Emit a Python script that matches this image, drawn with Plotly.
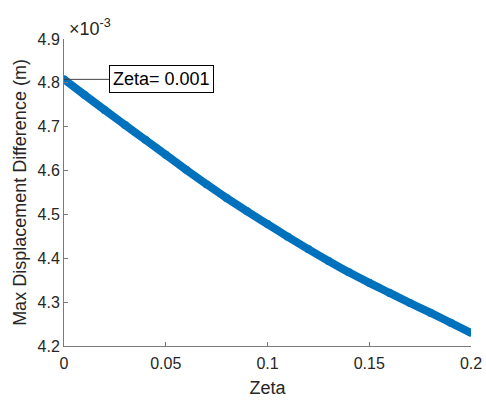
import plotly.graph_objects as go

zeta = [0.0, 0.01, 0.02, 0.03, 0.04, 0.05, 0.06, 0.07, 0.08, 0.09, 0.10,
        0.11, 0.12, 0.13, 0.14, 0.15, 0.16, 0.17, 0.18, 0.19, 0.20]
max_disp_diff = [4.808e-3, 4.773e-3, 4.738e-3, 4.704e-3, 4.670e-3, 4.636e-3,
                 4.602e-3, 4.569e-3, 4.537e-3, 4.507e-3, 4.478e-3, 4.449e-3,
                 4.421e-3, 4.394e-3, 4.368e-3, 4.344e-3, 4.321e-3, 4.298e-3,
                 4.276e-3, 4.253e-3, 4.230e-3]

x_ticks = [0, 0.05, 0.1, 0.15, 0.2]
x_ticktext = ["0", "0.05", "0.1", "0.15", "0.2"]
y_ticks = [4.2e-3, 4.3e-3, 4.4e-3, 4.5e-3, 4.6e-3, 4.7e-3, 4.8e-3, 4.9e-3]
y_ticktext = ["4.2", "4.3", "4.4", "4.5", "4.6", "4.7", "4.8", "4.9"]

label_zeta = 0.001
label_value = 4.808e-3

font_family = "Liberation Sans, Arial, sans-serif"
text_color = "#262626"
axis_color = "#7a7a7a"

fig = go.Figure()
fig.add_trace(go.Scatter(
    x=zeta, y=max_disp_diff, mode="lines+markers",
    line=dict(color="#0072BD", width=8, shape="spline"),
    marker=dict(color="#0072BD", size=8),
    showlegend=False, hoverinfo="skip",
))

fig.add_annotation(
    x=label_zeta - 0.001, y=label_value, xref="x", yref="y",
    text="Zeta= 0.001", showarrow=True, arrowhead=0, arrowwidth=1,
    arrowcolor="#404040", ax=97, ay=0,
    font=dict(family=font_family, size=18, color="#000000"),
    bgcolor="#ffffff", bordercolor="#000000", borderwidth=1, borderpad=3,
)
fig.add_annotation(
    x=0, y=1, xref="paper", yref="paper", xanchor="left", yanchor="bottom",
    text="×10<sup>-3</sup>", showarrow=False, xshift=3, yshift=-2,
    font=dict(family=font_family, size=18, color=text_color),
)

fig.update_layout(
    width=486, height=400,
    margin=dict(l=64, r=15, t=39, b=54),
    paper_bgcolor="#ffffff", plot_bgcolor="#ffffff",
    font=dict(family=font_family, size=16, color=text_color),
    xaxis=dict(
        range=[0, 0.2], tickvals=x_ticks, ticktext=x_ticktext,
        ticks="inside", ticklen=4, tickcolor=axis_color, automargin=False,
        showline=True, linecolor=axis_color, linewidth=1,
        showgrid=False, zeroline=False, mirror=False, ticklabelstandoff=3,
        tickfont=dict(size=16, color=text_color),
        title=dict(text="Zeta", font=dict(size=18, color=text_color), standoff=10),
    ),
    yaxis=dict(
        range=[4.2e-3, 4.9e-3], tickvals=y_ticks, ticktext=y_ticktext,
        ticks="inside", ticklen=4, tickcolor=axis_color, automargin=False,
        showline=True, linecolor=axis_color, linewidth=1,
        showgrid=False, zeroline=False, mirror=False,
        tickfont=dict(size=16, color=text_color),
        title=dict(text="Max Displacement Difference (m)",
                   font=dict(size=18, color=text_color), standoff=6),
    ),
)

fig.write_html("out.html")
